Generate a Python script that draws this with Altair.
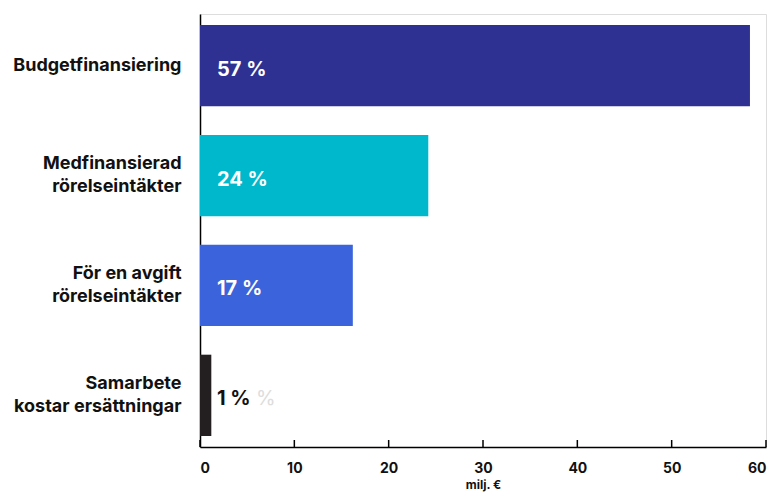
import altair as alt
import pandas as pd

categories = ["Budgetfinansiering", "Medfinansierad\nrörelseintäkter",
              "För en avgift\nrörelseintäkter", "Samarbete\nkostar ersättningar"]
values = [58.3, 24.2, 16.2, 1.2]
pct_labels = ["57 %", "24 %", "17 %", "1 %"]
bar_colors = ["#2e3192", "#00b8cc", "#3a63dc", "#231f20"]
label_colors = ["#ffffff", "#ffffff", "#ffffff", "#111111"]
tick_values = [0, 10, 20, 30, 40, 50, 60]

FONT = "Inter"
W, H = 566, 433

df = pd.DataFrame({"cat": categories, "val": values, "pct": pct_labels,
                   "bc": bar_colors, "lc": label_colors})
ticks_df = pd.DataFrame({"t": tick_values})
ghost_df = pd.DataFrame({"cat": [categories[3]], "txt": ["%"]})

yenc = alt.Y("cat:N", sort=categories,
             scale=alt.Scale(paddingInner=0.26, paddingOuter=0.1),
             axis=alt.Axis(title=None, ticks=False, domain=True, domainColor="#000",
                           domainWidth=1.5, labelFont=FONT, labelFontSize=18,
                           labelFontWeight="bold", labelColor="#111",
                           labelPadding=19, labelLineHeight=23,
                           labelOffset={"condition": {"test": "indexof(datum.value, '\\n') >= 0",
                                                      "value": -11.5},
                                        "value": 0},
                           labelExpr="split(datum.label, '\\n')"))
xscale = alt.Scale(domain=[0, 60], nice=False)

bars = alt.Chart(df).mark_bar().encode(
    x=alt.X("val:Q", scale=xscale,
            axis=alt.Axis(title="milj. €", values=tick_values, ticks=False, grid=False,
                          domainColor="#000", domainWidth=1.5,
                          labelFont=FONT, labelFontSize=14, labelFontWeight="bold",
                          labelColor="#111", labelPadding=14,
                          titleFont=FONT, titleFontSize=12, titleFontWeight="bold",
                          titleColor="#111", titlePadding=4)),
    y=yenc,
    color=alt.Color("bc:N", scale=None),
)

labels = alt.Chart(df).mark_text(align="left", baseline="middle", dx=17, dy=4,
                                 font=FONT, fontSize=20, fontWeight="bold").encode(
    x=alt.datum(0, scale=xscale),
    y=alt.Y("cat:N", sort=categories),
    text="pct:N",
    color=alt.Color("lc:N", scale=None),
)

ghost = alt.Chart(ghost_df).mark_text(align="left", baseline="middle", dx=56, dy=4,
                                      font=FONT, fontSize=20, fontWeight="normal",
                                      color="#dddddd").encode(
    x=alt.datum(0, scale=xscale),
    y=alt.Y("cat:N", sort=categories),
    text="txt:N",
)

tick_rules = alt.Chart(ticks_df).mark_rule(color="#000", strokeWidth=1.5).encode(
    x=alt.X("t:Q", scale=xscale),
    y=alt.value(H - 7),
    y2=alt.value(H),
)

chart = alt.layer(bars, labels, ghost, tick_rules).properties(
    width=W, height=H,
    autosize=alt.AutoSizeParams(type="none"),
    padding={"left": 192, "top": 6, "right": 4, "bottom": 46},
).configure_view(stroke=None).configure(background="#ffffff")

chart.save("out.html", embed_options={"renderer": "svg", "actions": False})
